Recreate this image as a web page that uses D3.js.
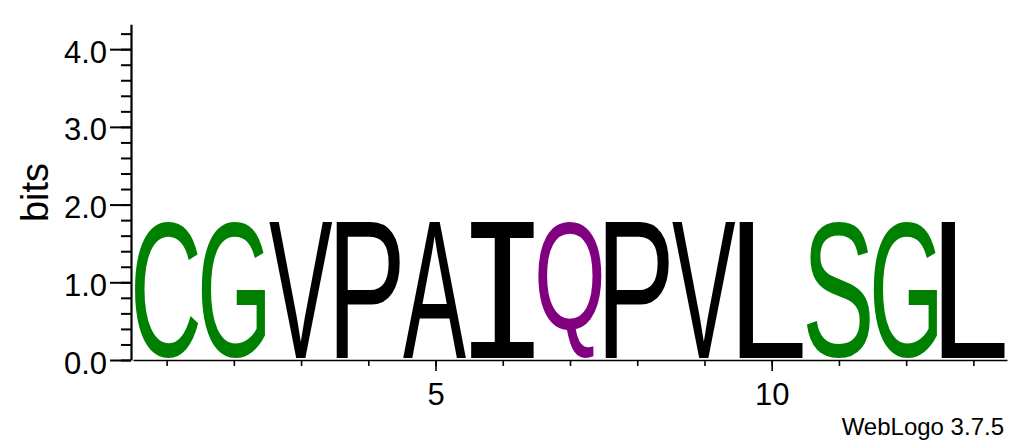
<!DOCTYPE html>
<html>
<head>
<meta charset="utf-8">
<script src="https://cdn.jsdelivr.net/npm/d3@7/dist/d3.min.js"></script>
<style>
  html, body { margin: 0; padding: 0; background: #fff; }
  svg { display: block; }
  @font-face {
    font-family: "LogoSans";
    src: local("Liberation Sans"), local("LiberationSans-Regular"), local("Arial");
    ascent-override: 74%;
    descent-override: 3%;
    line-gap-override: 0%;
  }
  @font-face {
    font-family: "LogoMono";
    src: local("DejaVu Sans Mono"), local("DejaVuSansMono");
    ascent-override: 74%;
    descent-override: 3%;
    line-gap-override: 0%;
  }
</style>
</head>
<body>
<svg id="chart" width="1030" height="444"></svg>
<script>
// ---- data ----
const positions = [1, 2, 3, 4, 5, 6, 7, 8, 9, 10, 11, 12, 13];
const letters   = ["C", "G", "V", "P", "A", "I", "Q", "P", "V", "L", "S", "G", "L"];
const bitValues = [1.78, 1.78, 1.78, 1.78, 1.78, 1.78, 1.78, 1.78, 1.78, 1.78, 1.78, 1.78, 1.78];
const yMajorTicks = [0, 1, 2, 3, 4];
const yMinorTicks = [0, 0.2, 0.4, 0.6, 0.8, 1.0, 1.2, 1.4, 1.6, 1.8, 2.0, 2.2, 2.4, 2.6, 2.8, 3.0, 3.2, 3.4, 3.6, 3.8, 4.0, 4.2];
const xMajorTicks = [5, 10];
const yLabel = "bits";
const footer = "WebLogo 3.7.5";
// chemistry colour scheme
const colorGroups = [
  { residues: "GSTYC", color: "#008000" },
  { residues: "QN",    color: "#800080" },
  { residues: "KRH",   color: "#0000ff" },
  { residues: "DE",    color: "#ff0000" },
  { residues: "AVLIPWFM", color: "#000000" }
];

// ---- layout ----
const svg = d3.select("#chart");
const x = d3.scaleLinear().domain([0.5, 13.5]).range([133, 1007]);
const y = d3.scaleLinear().domain([0, 4.32]).range([360, 24.3]);
const colorOf = c => (colorGroups.find(g => g.residues.includes(c)) || { color: "#000" }).color;

// ---- y axis ----
const yMinor = svg.append("g").attr("transform", "translate(131,0)")
  .call(d3.axisLeft(y).tickValues(yMinorTicks).tickSize(10).tickSizeOuter(0).tickFormat(""));
yMinor.select(".domain").remove();
yMinor.selectAll("line").attr("stroke", "#000").attr("stroke-width", 2);

const yMajor = svg.append("g").attr("transform", "translate(131,0)")
  .call(d3.axisLeft(y).tickValues(yMajorTicks).tickSize(21).tickSizeOuter(0).tickPadding(3).tickFormat(d3.format(".1f")));
yMajor.select(".domain").attr("stroke", "#000").attr("stroke-width", 2.2);
yMajor.selectAll("line").attr("stroke", "#000").attr("stroke-width", 2);
yMajor.selectAll("text")
  .attr("font-family", "'Liberation Sans', Arial, sans-serif")
  .attr("font-size", 31).attr("fill", "#000").attr("dy", "0.42em");

// ---- x axis ----
const xMinor = svg.append("g").attr("transform", "translate(0,360)")
  .call(d3.axisBottom(x).tickValues(positions).tickSize(6).tickSizeOuter(0).tickFormat(""));
xMinor.select(".domain").attr("stroke", "#000").attr("stroke-width", 1.6);
xMinor.selectAll("line").attr("stroke", "#000").attr("stroke-width", 1.6);

const xMajor = svg.append("g").attr("transform", "translate(0,360)")
  .call(d3.axisBottom(x).tickValues(xMajorTicks).tickSize(11).tickSizeOuter(0).tickPadding(12).tickFormat(d3.format("d")));
xMajor.select(".domain").remove();
xMajor.selectAll("line").attr("stroke", "#000").attr("stroke-width", 1.6);
xMajor.selectAll("text")
  .attr("font-family", "'Liberation Sans', Arial, sans-serif")
  .attr("font-size", 31).attr("fill", "#000");

// ---- labels ----
svg.append("text")
  .attr("transform", "translate(47.5,192.5) rotate(-90)")
  .attr("text-anchor", "middle")
  .attr("font-family", "'Liberation Sans', Arial, sans-serif")
  .attr("font-size", 38).attr("fill", "#000")
  .text(yLabel);

svg.append("text")
  .attr("x", 1004).attr("y", 435)
  .attr("text-anchor", "end")
  .attr("font-family", "'Liberation Sans', Arial, sans-serif")
  .attr("font-size", 24).attr("fill", "#000")
  .text(footer);

// ---- letters ----
const cnv = document.createElement("canvas");
const ctx = cnv.getContext("2d");
const BASE = 200;
function inkBox(ch, font) {
  ctx.font = font;
  const m = ctx.measureText(ch);
  return { left: -m.actualBoundingBoxLeft, right: m.actualBoundingBoxRight,
           top: -m.actualBoundingBoxAscent, bottom: m.actualBoundingBoxDescent,
           advance: m.width };
}
const gLetters = svg.insert("g", ":first-child");
function drawLetters() {
  positions.forEach((p, i) => {
    const ch = letters[i];
    const family = ch === "I" ? "LogoMono" : "LogoSans";
    const fallback = ch === "I" ? "'DejaVu Sans Mono'" : "'Liberation Sans'";
    const fam = `"${family}", ${fallback}`;
    const b = inkBox(ch, `${BASE}px ${fam}`);
    const x0 = x(p - 0.5) + 1.5, x1 = x(p + 0.5) - 2.5;
    const y0 = y(bitValues[i]), y1 = y(0) - 2;
    const sx = (x1 - x0) / (b.right - b.left);
    const sy = (y1 - y0) / (b.bottom - b.top);
    const rsb = Math.max(0, b.advance - b.right);
    gLetters.append("text")
      .attr("x", 0).attr("y", 0)
      .attr("font-family", fam)
      .attr("font-size", BASE)
      .attr("letter-spacing", -rsb)
      .attr("fill", colorOf(ch))
      .attr("transform", `translate(${x0},${y0}) scale(${sx},${sy}) translate(${-b.left},${-b.top})`)
      .text(ch);
  });
}
Promise.all([
  document.fonts.load(`${BASE}px LogoSans`, "CGVPAQLS"),
  document.fonts.load(`${BASE}px LogoMono`, "I")
]).then(drawLetters, drawLetters);
</script>
</body>
</html>
